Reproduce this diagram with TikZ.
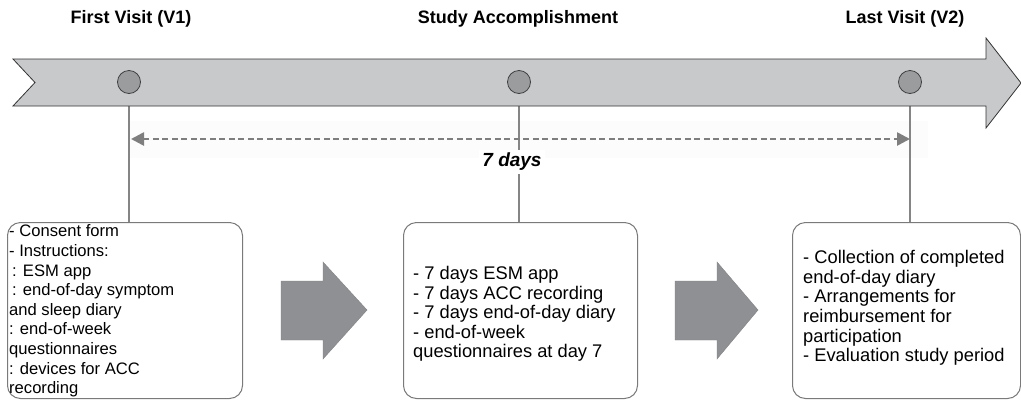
\documentclass[tikz,border=0pt]{standalone}
\usepackage{fontspec}
\setmainfont{Liberation Sans}
\usetikzlibrary{arrows.meta}
\definecolor{bandfill}{HTML}{C8C9CB}
\definecolor{dotfill}{HTML}{9B9C9E}
\definecolor{blockfill}{HTML}{8F9093}
\definecolor{linegray}{HTML}{858585}
\definecolor{boxline}{HTML}{7A7A7A}
\begin{document}
\begin{tikzpicture}[x=1pt,y=-1pt,
  header/.style={font=\fontsize{18}{20}\selectfont\bfseries, anchor=center},
  dot/.style={circle, draw=black!75, fill=dotfill, line width=0.8pt, minimum size=23pt, inner sep=0pt},
  stepbox/.style={draw=boxline, line width=1pt, rounded corners=13pt, fill=white, inner sep=0pt},
  boxtext/.style={font=\fontsize{18.3}{19.6}\selectfont, align=left, anchor=west, inner sep=0pt},
  link/.style={draw=linegray, line width=1.6pt},
  blockarrow/.style={fill=blockfill, draw=blockfill!90!black, line width=0.4pt}
]
\useasboundingbox (0,0) rectangle (1021,400);

% faint shadow region behind the dashed arrow
\fill[gray!2] (128,121) rectangle (928,158);

% circles (positions) and boxes
\node[dot] (c1) at (129,82) {};
\node[dot] (c2) at (519,82) {};
\node[dot] (c3) at (910,82) {};

\node[stepbox, minimum width=235pt, minimum height=176pt, anchor=north west] (b1) at (7,222) {};
\node[stepbox, minimum width=234pt, minimum height=176pt, anchor=north west] (b2) at (403,222) {};
\node[stepbox, minimum width=228pt, minimum height=176pt, anchor=north west] (b3) at (792,222) {};

% vertical connectors (drawn before the band so they start at its lower edge)
\draw[link] (c1) -- (c1 |- b1.north);
\draw[link] (c2) -- (c2 |- b2.north);
\draw[link] (c3) -- (c3 |- b3.north);

% timeline band
\filldraw[fill=bandfill, draw=black!80, line width=0.8pt]
  (13,59) -- (986,59) -- (986,38) -- (1021,83) -- (986,128) -- (986,106)
  -- (13,106) -- (35,82.5) -- cycle;
\node[dot] at (c1) {};
\node[dot] at (c2) {};
\node[dot] at (c3) {};

% dashed double arrow
\coordinate (dl) at (131,139);
\coordinate (dr) at (910,139);
\draw[draw=linegray!95!black, line width=2.6pt, dash pattern=on 6pt off 3.5pt,
  arrows={Triangle[length=13pt,width=13pt]-Triangle[length=13pt,width=13pt]}] (dl) -- (dr);

\node[font=\fontsize{19}{21}\selectfont\bfseries\itshape, fill=white, inner sep=3pt] (days) at (512,162) {7 days};

% headers
\node[header] (h1) at (131,19) {First Visit (V1)};
\node[header] (h2) at (518,19) {Study Accomplishment};
\node[header] (h3) at (905,19) {Last Visit (V2)};

% box texts
\node[boxtext, font=\fontsize{16.6}{19.6}\selectfont] (t1) at (9,311) {- Consent form\\- Instructions:\\\hspace{3pt}: ESM app\\\hspace{3pt}: end-of-day symptom\\and sleep diary\\: end-of-week\\questionnaires\\: devices for ACC\\recording};
\node[boxtext] (t2) at (413,314) {- 7 days ESM app\\- 7 days ACC recording\\- 7 days end-of-day diary\\- end-of-week\\questionnaires at day 7};
\node[boxtext] (t3) at (803,308) {- Collection of completed\\end-of-day diary\\- Arrangements for\\reimbursement for\\participation\\- Evaluation study period};

% block arrows between boxes
\path[blockarrow] (281,281) -- (323,281) -- (323,262) -- (367,310) -- (323,359)
  -- (323,340) -- (281,340) -- cycle;
\path[blockarrow] (675,281) -- (717,281) -- (717,262) -- (758,310) -- (717,359)
  -- (717,340) -- (675,340) -- cycle;
\end{tikzpicture}
\end{document}
